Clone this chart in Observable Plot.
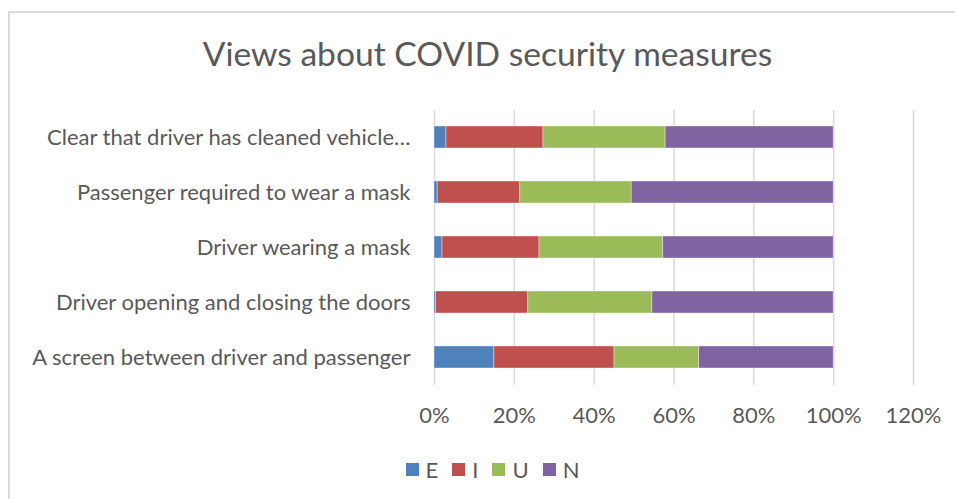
<!DOCTYPE html>
<html>
<head>
<meta charset="utf-8">
<script src="https://cdn.jsdelivr.net/npm/d3@7"></script>
<script src="https://cdn.jsdelivr.net/npm/@observablehq/plot@0.6"></script>
<style>
  html, body { margin: 0; padding: 0; background: #fff; }
  #wrap { position: relative; width: 955px; height: 499px; overflow: hidden; font-family: Lato, "Open Sans", sans-serif; color: #595959; }
  #frame { position: absolute; left: 8px; top: 11px; width: 980px; height: 520px; border: 2px solid #d9d9d9; box-sizing: border-box; }
  #title { position: absolute; left: 10px; width: 955px; top: 36px; text-align: center; font-size: 33.6px; line-height: 34px; white-space: nowrap; }
  #chart { position: absolute; left: 0; top: 0; }
  #legend { position: absolute; left: 15px; width: 955px; top: 458px; height: 22px; display: flex; justify-content: center; align-items: center; font-size: 22px; }
  .item { display: flex; align-items: center; margin: 0 7px; }
  .sw { width: 13px; height: 13px; margin-right: 7px; }
</style>
</head>
<body>
<div id="wrap">
  <div id="frame"></div>
  <div id="title">Views about COVID security measures</div>
  <div id="chart"></div>
  <div id="legend"></div>
</div>
<script>
const categories = [
  "Clear that driver has cleaned vehicle…",
  "Passenger required to wear a mask",
  "Driver wearing a mask",
  "Driver opening and closing the doors",
  "A screen between driver and passenger"
];
const series = ["E", "I", "U", "N"];
const seriesColors = ["#4f81bd", "#c0504d", "#9bbb59", "#8064a2"];
const valuesE = [3.0, 0.8, 2.0, 0.4, 15.0];
const valuesI = [24.3, 20.7, 24.3, 23.1, 30.1];
const valuesU = [30.6, 27.9, 31.0, 31.1, 21.2];
const valuesN = [42.1, 50.6, 42.7, 45.4, 33.7];
const xTicks = [0, 20, 40, 60, 80, 100, 120];

const seriesValues = [valuesE, valuesI, valuesU, valuesN];
const data = [];
categories.forEach((c, i) => {
  series.forEach((s, j) => data.push({category: c, series: s, value: seriesValues[j][i]}));
});

const chart = Plot.plot({
  width: 955,
  height: 499,
  marginTop: 110,
  marginBottom: 114,
  marginLeft: 434,
  marginRight: 42,
  style: {fontFamily: "Lato, 'Open Sans', sans-serif", fontSize: "22px", color: "#595959", background: "transparent", overflow: "visible"},
  x: {domain: [0, 120]},
  y: {domain: categories, paddingInner: 0.6, paddingOuter: 0.3},
  color: {domain: series, range: seriesColors},
  marks: [
    Plot.gridX(xTicks, {stroke: "#d9d9d9", strokeOpacity: 1, strokeWidth: 1.5}),
    Plot.barX(data, Plot.stackX({y: "category", x: "value", fill: "series", stroke: "#ffffff", strokeOpacity: 0.5, strokeWidth: 0.75})),
    Plot.axisX({ticks: xTicks, tickSize: 0, tickPadding: 22, tickFormat: d => d + "%", label: null, fill: "#595959"}),
    Plot.axisY({tickSize: 0, tickPadding: 24, label: null, fill: "#595959"})
  ]
});
document.getElementById("chart").appendChild(chart);

const legend = document.getElementById("legend");
series.forEach((s, j) => {
  const item = document.createElement("div");
  item.className = "item";
  const sw = document.createElement("div");
  sw.className = "sw";
  sw.style.background = seriesColors[j];
  const lab = document.createElement("span");
  lab.textContent = s;
  item.appendChild(sw);
  item.appendChild(lab);
  legend.appendChild(item);
});
</script>
</body>
</html>
